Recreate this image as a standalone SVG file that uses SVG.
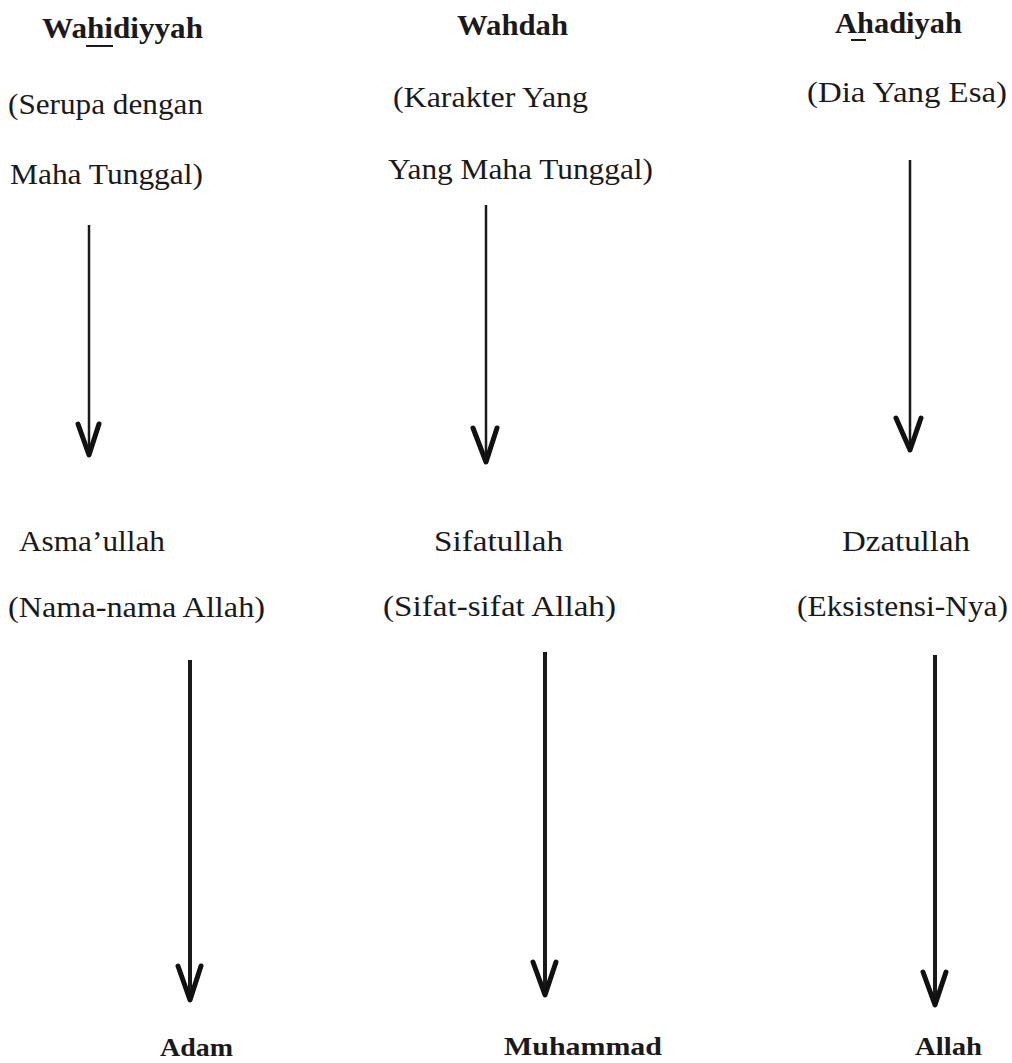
<svg xmlns="http://www.w3.org/2000/svg" width="1012" height="1063" viewBox="0 0 1012 1063">
<style>
text{font-family:"Liberation Serif","Times New Roman",serif;fill:#1a1a1a;font-size:30px}
.b{font-weight:bold}
.lb{font-size:26px}
.ln{stroke:#1a1a1a;stroke-width:2.5;fill:none}
.ln2{stroke:#1a1a1a;stroke-width:4;fill:none}
.hd{stroke:#111;stroke-width:5;fill:none;stroke-linecap:round;stroke-linejoin:round}
</style>
<rect width="1012" height="1063" fill="#fff"/>
<g id="wahidiyyah">
<text class="b" x="42" y="38" textLength="161" lengthAdjust="spacingAndGlyphs">Wahidiyyah</text>
<line x1="86" y1="46" x2="113" y2="46" stroke="#1a1a1a" stroke-width="2"/>
<text x="8" y="114" textLength="195" lengthAdjust="spacingAndGlyphs">(Serupa dengan</text>
<text x="10" y="184" textLength="193" lengthAdjust="spacingAndGlyphs">Maha Tunggal)</text>
</g>
<g id="wahdah">
<text class="b" x="457" y="35" textLength="111" lengthAdjust="spacingAndGlyphs">Wahdah</text>
<text x="393" y="107" textLength="195" lengthAdjust="spacingAndGlyphs">(Karakter Yang</text>
<text x="388" y="179" textLength="265" lengthAdjust="spacingAndGlyphs">Yang Maha Tunggal)</text>
</g>
<g id="ahadiyah">
<text class="b" x="835" y="33" textLength="127" lengthAdjust="spacingAndGlyphs">Ahadiyah</text>
<line x1="851" y1="40" x2="866" y2="40" stroke="#1a1a1a" stroke-width="2"/>
<text x="807" y="102" textLength="200" lengthAdjust="spacingAndGlyphs">(Dia Yang  Esa)</text>
</g>
<g id="asmaullah">
<text x="19" y="551" textLength="146" lengthAdjust="spacingAndGlyphs">Asma’ullah</text>
<text x="8" y="617" textLength="257" lengthAdjust="spacingAndGlyphs">(Nama-nama Allah)</text>
</g>
<g id="sifatullah">
<text x="434" y="551" textLength="129" lengthAdjust="spacingAndGlyphs">Sifatullah</text>
<text x="383" y="616" textLength="233" lengthAdjust="spacingAndGlyphs">(Sifat-sifat Allah)</text>
</g>
<g id="dzatullah">
<text x="842" y="551" textLength="128" lengthAdjust="spacingAndGlyphs">Dzatullah</text>
<text x="797" y="616" textLength="211" lengthAdjust="spacingAndGlyphs">(Eksistensi-Nya)</text>
</g>
<g id="adam"><text class="b lb" x="160" y="1056" textLength="73" lengthAdjust="spacingAndGlyphs">Adam</text></g>
<g id="muhammad"><text class="b lb" x="504" y="1055" textLength="158" lengthAdjust="spacingAndGlyphs">Muhammad</text></g>
<g id="allah"><text class="b lb" x="915" y="1055" textLength="67" lengthAdjust="spacingAndGlyphs">Allah</text></g>
<g id="connectors">
<line class="ln" x1="89" y1="225" x2="89" y2="453"/>
<path class="hd" d="M78,424 L89,455 L99,424"/>
<line class="ln" x1="486" y1="205" x2="486" y2="460"/>
<path class="hd" d="M473,428 L486,462 L497,428"/>
<line class="ln" x1="910" y1="160" x2="910" y2="448"/>
<path class="hd" d="M896,418 L910,450 L921,418"/>
<line class="ln2" x1="190" y1="660" x2="190" y2="998"/>
<path class="hd" d="M178,966 L190,1000 L201,966"/>
<line class="ln2" x1="545" y1="652" x2="545" y2="993"/>
<path class="hd" d="M533,962 L545,995 L556,962"/>
<line class="ln2" x1="935" y1="655" x2="935" y2="1003"/>
<path class="hd" d="M923,972 L935,1005 L946,972"/>
</g>
</svg>
